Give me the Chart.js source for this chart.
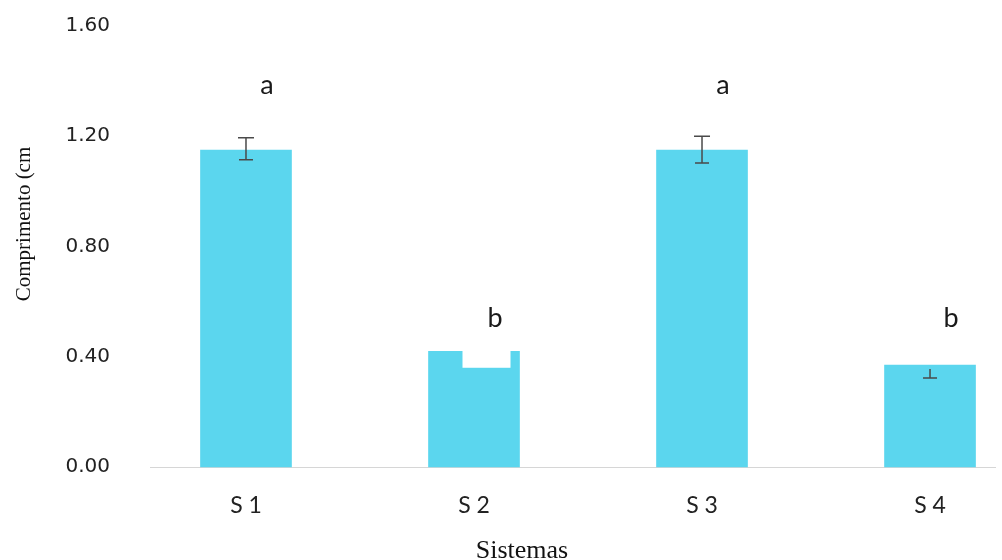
<!DOCTYPE html>
<html>
<head>
<meta charset="utf-8">
<script src="https://cdn.jsdelivr.net/npm/chart.js@4.4.0/dist/chart.umd.min.js"></script>
<style>
  html, body { margin: 0; padding: 0; background: #fff; }
  #wrap { width: 1002px; height: 560px; position: relative; }
</style>
</head>
<body>
<div id="wrap"><canvas id="chart"></canvas></div>
<script>
// Root length per system, with error bars and significance letters
var categories = ['S 1', 'S 2', 'S 3', 'S 4'];
var positions = [1, 2, 3, 4];
var lengths = [1.15, 0.42, 1.15, 0.37];
var errHigh = [0.045, 0, 0.05, 0];
var errLow = [0.035, 0, 0.047, 0.047];
var letters = ['a', 'b', 'a', 'b'];
var yTicks = [0, 0.4, 0.8, 1.2, 1.6];

var barColor = '#5bd6ee';

// error bars drawn over each bar
var errorBars = {
    id: 'errorBars',
    afterDatasetsDraw: function(chart) {
        var meta = chart.getDatasetMeta(0);
        var y = chart.scales.y;
        var ctx = chart.ctx;
        ctx.save();
        ctx.strokeStyle = '#4a4a4a';
        ctx.lineWidth = 1.5;
        meta.data.forEach(function(bar, i) {
            if (!errHigh[i] && !errLow[i]) return;
            var top = y.getPixelForValue(lengths[i] + errHigh[i]);
            var bot = y.getPixelForValue(lengths[i] - errLow[i]);
            if (!errHigh[i]) top = bar.y + 4;
            ctx.beginPath();
            ctx.moveTo(bar.x, top);
            ctx.lineTo(bar.x, bot);
            if (errHigh[i]) {
                ctx.moveTo(bar.x - 8, top);
                ctx.lineTo(bar.x + 8, top);
            }
            ctx.moveTo(bar.x - 7, bot);
            ctx.lineTo(bar.x + 7, bot);
            ctx.stroke();
        });
        ctx.restore();
    }
};

// white cut in the top of the S 2 bar
var barNotch = {
    id: 'barNotch',
    afterDatasetsDraw: function(chart, args, opts) {
        var bar = chart.getDatasetMeta(0).data[opts.index];
        var y = chart.scales.y;
        var ctx = chart.ctx;
        var left = bar.x - bar.width / 2 + 34;
        var right = bar.x + bar.width / 2 - 9;
        var top = y.getPixelForValue(lengths[opts.index]) - 1;
        var bottom = y.getPixelForValue(opts.floor);
        ctx.save();
        ctx.fillStyle = '#fff';
        ctx.fillRect(left, top, right - left, bottom - top);
        ctx.restore();
    }
};

// significance letters and axis titles
var annotations = {
    id: 'annotations',
    afterDraw: function(chart, args, opts) {
        var meta = chart.getDatasetMeta(0);
        var y = chart.scales.y;
        var ctx = chart.ctx;
        ctx.save();
        ctx.fillStyle = '#1a1a1a';
        ctx.font = '27px Lato';
        ctx.textAlign = 'center';
        ctx.textBaseline = 'alphabetic';
        meta.data.forEach(function(bar, i) {
            ctx.fillText(letters[i], bar.x + 21, y.getPixelForValue(opts.letterLevels[i]));
        });

        ctx.fillStyle = '#111';
        ctx.font = '26px "Liberation Serif"';
        ctx.fillText('Sistemas', 522, 558);

        ctx.translate(30, 224);
        ctx.rotate(-Math.PI / 2);
        ctx.font = '21px "Liberation Serif"';
        ctx.fillText('Comprimento (cm', 0, 0);
        ctx.restore();
    }
};

new Chart(document.getElementById('chart'), {
    type: 'bar',
    data: {
        datasets: [{
            data: positions.map(function(p, i) { return { x: p, y: lengths[i] }; }),
            backgroundColor: barColor,
            borderWidth: 0,
            barThickness: 91,
            clip: false
        }]
    },
    options: {
        responsive: true,
        maintainAspectRatio: false,
        animation: false,
        layout: { padding: { top: 26, right: 7, left: 0, bottom: 0 } },
        plugins: {
            legend: { display: false },
            tooltip: { enabled: false },
            barNotch: { index: 1, floor: 0.36 },
            annotations: { letterLevels: [1.353, 0.508, 1.353, 0.508] }
        },
        scales: {
            x: {
                type: 'linear',
                offset: false,
                min: 0.579,
                max: 4.285,
                afterBuildTicks: function(scale) {
                    scale.ticks = positions.map(function(p) { return { value: p }; });
                },
                afterFit: function(scale) { scale.height = 93; },
                grid: { display: false, offset: false },
                border: { display: true, color: '#d6d6d6', width: 1 },
                ticks: {
                    autoSkip: false,
                    maxRotation: 0,
                    padding: 17,
                    color: '#222',
                    font: { family: 'Lato', size: 23 },
                    callback: function(v) { return categories[positions.indexOf(v)]; }
                }
            },
            y: {
                min: 0,
                max: 1.6,
                afterBuildTicks: function(scale) {
                    scale.ticks = yTicks.map(function(v) { return { value: v }; });
                },
                afterFit: function(scale) {
                    scale.width = 150;
                    scale.paddingTop = 0;
                    scale.paddingBottom = 0;
                },
                grid: { display: false, drawTicks: false },
                border: { display: false },
                ticks: {
                    padding: 40,
                    color: '#222',
                    font: { family: 'DejaVu Sans', size: 20 },
                    callback: function(v) { return v.toFixed(2); }
                }
            }
        }
    },
    plugins: [errorBars, barNotch, annotations]
});
</script>
</body>
</html>
